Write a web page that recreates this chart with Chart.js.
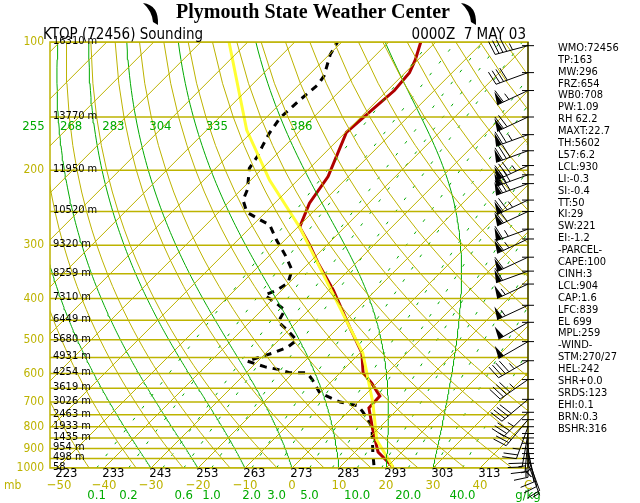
<!DOCTYPE html>
<html>
<head>
<meta charset="utf-8">
<script src="https://cdn.jsdelivr.net/npm/chart.js@4.4.0/dist/chart.umd.min.js"></script>
<style>
  html, body { margin: 0; padding: 0; background: #fff; }
  #wrap { width: 640px; height: 503px; }
</style>
</head>
<body>
<div id="wrap"><canvas id="skewt" width="640" height="503"></canvas></div>
<script>
// Sounding KTOP 0000Z 7 MAY 03
const tempP  = [995, 917, 814, 723, 678, 632, 598, 537, 467, 382, 330, 300, 272, 239, 207, 163, 144, 130, 118, 110, 100];
const tempT  = [21.3, 14.9, 9.1, 3.6, 3.4, -1.1, -5.1, -9.6, -17.7, -29.1, -38.1, -43.6, -49.6, -52.6, -54.3, -59.8, -59.1, -58.5, -59.1, -60.6, -63.2];
const dewP   = [984, 922, 801, 739, 715, 700, 667, 622, 598, 598, 586, 579, 561, 537, 520, 501, 474, 454, 426, 408, 393, 382, 368, 343, 316, 292, 269, 260, 251, 235, 222, 198, 186, 176, 164, 151, 137, 126, 120, 107, 100];
const dewT   = [16.8, 14.0, 8.3, 3.2, 0.9, -3.8, -10.0, -14.3, -17.0, -20.6, -24.3, -27.2, -32.3, -28.5, -26.6, -26.2, -30.4, -34.0, -35.1, -38.9, -42.6, -41.0, -40.2, -42.1, -46.8, -51.7, -56.4, -60.2, -64.0, -67.4, -68.7, -72.8, -73.6, -74.7, -76.0, -77.0, -76.6, -76.0, -76.6, -79.8, -80.9];
const parcelP = [995, 860, 704, 537, 467, 272, 211, 161, 100];
const parcelT = [21.3, 12.1, 3.4, -9.4, -17.7, -49.6, -66.0, -81.5, -104];

const heightP   = [100, 150, 200, 250, 300, 350, 400, 450, 500, 550, 600, 650, 700, 750, 800, 850, 900, 950, 1000];
const heightLbl = ['16310 m', '13770 m', '11950 m', '10520 m', '9320 m', '8259 m', '7310 m', '6449 m', '5680 m', '4931 m', '4254 m', '3619 m', '3026 m', '2463 m', '1933 m', '1435 m', '954 m', '498 m', '58'];
const pressTicks = [100, 200, 300, 400, 500, 600, 700, 800, 900, 1000];
const tempTicks  = [-50, -40, -30, -20, -10, 0, 10, 20, 30, 40];
const kelvinLbl  = ['223', '233', '243', '253', '263', '273', '283', '293', '303', '313'];
const mixRatios  = [0.1, 0.2, 0.6, 1.0, 2.0, 3.0, 5.0, 10.0, 20.0, 40.0];
const moistStart = [-30, -20, -10, 0, 10, 20, 30];
const thetaELbl  = ['255', '268', '283', '304', '335', '386'];
const thetaEPos  = [-55, -47, -38, -28, -16, 2];

const windP   = [102, 118, 130, 150, 165, 180, 195, 205, 215, 235, 250, 275, 290, 320, 345, 370, 415, 455, 505, 560, 620, 690, 740, 770, 800, 830, 850, 875, 900, 925, 950, 975];
const windDir = [255, 250, 245, 245, 250, 250, 245, 250, 250, 245, 245, 250, 245, 245, 250, 245, 245, 240, 240, 240, 235, 230, 225, 220, 200, 190, 185, 180, 170, 165, 160, 160];
const windSpd = [45, 40, 65, 70, 75, 80, 85, 80, 80, 75, 70, 65, 65, 60, 60, 55, 55, 50, 50, 45, 45, 40, 35, 30, 25, 20, 15, 15, 10, 10, 10, 5];

const stats = ['WMO:72456', 'TP:163', 'MW:296', 'FRZ:654', 'WB0:708', 'PW:1.09', 'RH 62.2', 'MAXT:22.7',
  'TH:5602', 'L57:6.2', 'LCL:930', 'LI:-0.3', 'SI:-0.4', 'TT:50', 'KI:29', 'SW:221', 'EI:-1.2', '-PARCEL-',
  'CAPE:100', 'CINH:3', 'LCL:904', 'CAP:1.6', 'LFC:839', 'EL 699', 'MPL:259', '-WIND-', 'STM:270/27',
  'HEL:242', 'SHR+0.0', 'SRDS:123', 'EHI:0.1', 'BRN:0.3', 'BSHR:316'];

const OLIVE = '#bdb300';
const GREEN = '#00aa00';
const SKEW = 90.6; // degC of shift per decade of pressure

function skewX(t, p) { return t + SKEW * Math.log10(1000 / p); }
function pts(P, T) { return P.map((p, i) => ({ x: skewX(T[i], p), y: p })); }
function levels(step) { const a = []; for (let p = 1000; p >= 100; p -= step) a.push(p); return a; }

function es(tc) { return 6.112 * Math.exp(17.67 * tc / (tc + 243.5)); }

function moistAdiabat(t0) {
  const out = [];
  let t = t0 + 273.15;
  for (let p = 1000; p >= 100; p -= 5) {
    out.push({ x: skewX(t - 273.15, p), y: p });
    const e = es(t - 273.15);
    const rs = 0.622 * e / (p - e);
    const dTdp = (287 * t + 2.5e6 * rs) / (1004 + 2.5e6 * 2.5e6 * rs * 0.622 / (287 * t * t)) / p;
    t -= dTdp * 5;
  }
  return out;
}

function mixLine(w) {
  return [1000, 700, 500, 300, 200, 100].map(p => {
    const e = (w / 1000) * p / (0.622 + w / 1000);
    const l = Math.log(e / 6.112);
    return { x: skewX(243.5 * l / (17.67 - l), p), y: p };
  });
}

const line = (data, color, width, dash) => ({
  data, borderColor: color, borderWidth: width, borderDash: dash || [],
  showLine: true, pointRadius: 0, fill: false, tension: 0
});

const datasets = [];
// isobars every 50 mb
levels(50).forEach(p => datasets.push(line([{ x: -60, y: p }, { x: 60, y: p }], OLIVE, 1.5)));
// isotherms
for (let t = -150; t <= 50; t += 10) datasets.push(line([{ x: skewX(t, 1000), y: 1000 }, { x: skewX(t, 100), y: 100 }], OLIVE, 1));
// dry adiabats
for (let th = 220; th <= 500; th += 10) {
  datasets.push(line(levels(25).map(p => ({ x: skewX(th * Math.pow(p / 1000, 0.286) - 273.15, p), y: p })), OLIVE, 1));
}
// moist adiabats
moistStart.forEach(t => datasets.push(line(moistAdiabat(t), GREEN, 1)));
// mixing ratio lines
mixRatios.concat([0.4, 7.0, 14.0, 28.0]).forEach(w => datasets.push(line(mixLine(w), GREEN, 1, [3, 12])));
// sounding
datasets.push(line(pts(parcelP, parcelT), '#ffff33', 3));
datasets.push(line(pts(tempP, tempT), '#b00000', 3));
datasets.push(line(pts(dewP, dewT), '#000000', 3, [7, 6]));

function drawBarb(ctx, x, y, dir, spd) {
  const r = dir * Math.PI / 180;
  const ux = Math.sin(r), uy = -Math.cos(r);
  const L = 34;
  const ex = x + ux * L, ey = y + uy * L;
  // perpendicular (clockwise side)
  const px = -uy, py = ux;
  ctx.beginPath(); ctx.moveTo(x, y); ctx.lineTo(ex, ey); ctx.stroke();
  let s = Math.round(spd / 5) * 5, pos = 0;
  while (s >= 50) {
    const bx = ex - ux * pos, by = ey - uy * pos;
    ctx.beginPath(); ctx.moveTo(bx, by);
    ctx.lineTo(bx + px * 13 - ux * 3, by + py * 13 - uy * 3);
    ctx.lineTo(bx - ux * 6, by - uy * 6); ctx.closePath(); ctx.fill();
    pos += 7; s -= 50;
  }
  while (s >= 10) {
    const bx = ex - ux * pos, by = ey - uy * pos;
    ctx.beginPath(); ctx.moveTo(bx, by); ctx.lineTo(bx + px * 14 + ux * 3, by + py * 14 + uy * 3); ctx.stroke();
    pos += 4; s -= 10;
  }
  if (s >= 5) {
    const bx = ex - ux * (pos + 2), by = ey - uy * (pos + 2);
    ctx.beginPath(); ctx.moveTo(bx, by); ctx.lineTo(bx + px * 7 + ux * 1.5, by + py * 7 + uy * 1.5); ctx.stroke();
  }
}

const decor = {
  id: 'decor',
  afterDraw(chart) {
    const { ctx, chartArea: a, scales: { x, y } } = chart;
    ctx.save();
    ctx.strokeStyle = OLIVE; ctx.lineWidth = 1.5;
    ctx.strokeRect(a.left, a.top, a.right - a.left, a.bottom - a.top);

    // title
    ctx.fillStyle = '#000';
    ctx.font = 'bold 20px "Liberation Serif", serif';
    ctx.textAlign = 'center'; ctx.textBaseline = 'middle';
    ctx.fillText('Plymouth State Weather Center', 313, 13);
    [152, 470].forEach(cx => {
      ctx.beginPath();
      ctx.moveTo(cx - 9, 3); ctx.quadraticCurveTo(cx + 7, 5, cx + 6, 25);
      ctx.lineTo(cx + 1, 22); ctx.quadraticCurveTo(cx, 11, cx - 9, 3); ctx.fill();
    });

    ctx.font = '15px "DejaVu Sans Condensed", sans-serif';
    ctx.textAlign = 'left'; ctx.textBaseline = 'bottom';
    ctx.fillText('KTOP (72456) Sounding', 43, 43);
    ctx.textAlign = 'right';
    ctx.fillText('0000Z  7 MAY 03', 526, 43);

    // pressure labels
    ctx.font = '12px "DejaVu Sans Condensed", sans-serif';
    ctx.fillStyle = OLIVE; ctx.textBaseline = 'middle';
    pressTicks.forEach(p => ctx.fillText(String(p), a.left - 6, y.getPixelForValue(p)));
    ctx.textAlign = 'left';
    ctx.fillText('mb', 4, 486);

    // heights
    ctx.fillStyle = '#000';
    ctx.font = '11px "DejaVu Sans Condensed", sans-serif';
    heightP.forEach((p, i) => ctx.fillText(heightLbl[i], a.left + 3, y.getPixelForValue(p) - 1));

    // bottom temperature labels
    ctx.textAlign = 'center';
    ctx.font = '13px "DejaVu Sans Condensed", sans-serif';
    ctx.fillStyle = OLIVE;
    tempTicks.forEach(t => ctx.fillText(t < 0 ? '\u2212' + (-t) : String(t), x.getPixelForValue(t) + (t === -50 ? 2 : 0), 486));
    ctx.fillText('C', a.right, 486);
    ctx.fillStyle = '#000';
    tempTicks.forEach((t, i) => ctx.fillText(kelvinLbl[i], x.getPixelForValue(t + 2), 474));
    ctx.fillText('K', a.right, 474);
    ctx.fillStyle = GREEN;
    mixRatios.forEach(w => ctx.fillText(w.toFixed(1), x.getPixelForValue(mixLine(w)[0].x), 496));
    ctx.fillText('g/kg', a.right, 496);
    thetaELbl.forEach((s, i) => ctx.fillText(s, x.getPixelForValue(thetaEPos[i]), y.getPixelForValue(150) + 10));

    // wind column
    ctx.strokeStyle = '#000'; ctx.fillStyle = '#000'; ctx.lineWidth = 1;
    ctx.beginPath(); ctx.moveTo(a.right, a.top); ctx.lineTo(a.right, a.bottom); ctx.stroke();
    windP.forEach((p, i) => {
      const py = y.getPixelForValue(p);
      ctx.beginPath(); ctx.moveTo(a.right - 6, py); ctx.lineTo(a.right + 6, py); ctx.stroke();
      drawBarb(ctx, a.right, py, windDir[i], windSpd[i]);
    });

    // stats
    ctx.font = '11px "DejaVu Sans Condensed", sans-serif';
    ctx.textAlign = 'left'; ctx.textBaseline = 'middle'; ctx.fillStyle = '#000';
    stats.forEach((s, i) => ctx.fillText(s, 558, 48 + i * 11.9));
    ctx.restore();
  }
};

new Chart(document.getElementById('skewt'), {
  type: 'scatter',
  data: { datasets },
  options: {
    responsive: false, animation: false, devicePixelRatio: 1,
    layout: { padding: { left: 50, top: 42, right: 112, bottom: 35 } },
    plugins: { legend: { display: false }, tooltip: { enabled: false } },
    scales: {
      x: { type: 'linear', min: -242 / 4.7, max: 236 / 4.7, display: false },
      y: { type: 'logarithmic', min: 100, max: 1000, reverse: true, display: false }
    }
  },
  plugins: [decor]
});
</script>
</body>
</html>
